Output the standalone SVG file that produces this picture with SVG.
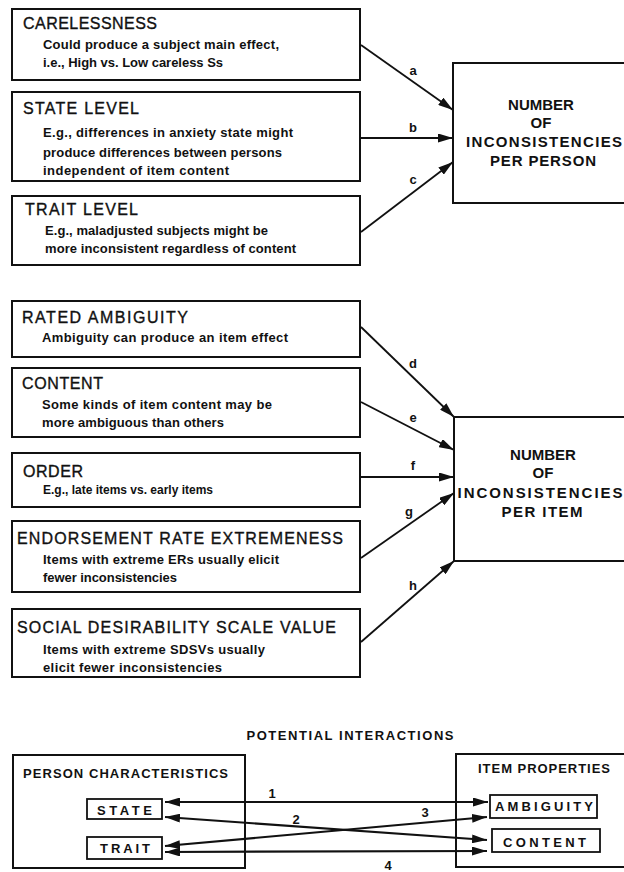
<svg xmlns="http://www.w3.org/2000/svg" width="624" height="872" viewBox="0 0 624 872">
<defs>
<marker id="ah" viewBox="0 0 15 9" refX="15" refY="4.5" markerWidth="15" markerHeight="9" markerUnits="userSpaceOnUse" orient="auto-start-reverse"><path d="M0,0 L15,4.5 L0,9 z" fill="#111"/></marker>
<style>
.box{fill:#fff;stroke:#111;stroke-width:2}
.ibox{fill:#fff;stroke:#111;stroke-width:1.8}
text{font-family:"Liberation Sans",Arial,sans-serif;fill:#111}
.h{font-size:16px;stroke:#111;stroke-width:0.35}
.s{font-size:13px;font-weight:bold}
.n{font-size:15px;font-weight:bold;text-anchor:middle}
.l{font-size:13px;font-weight:bold;text-anchor:middle}
.c{font-size:13px;font-weight:bold}
.ar{stroke:#111;stroke-width:1.8;fill:none;marker-end:url(#ah)}
.da{stroke:#111;stroke-width:2.2;fill:none;marker-end:url(#ah);marker-start:url(#ah)}
</style>
</defs>
<rect width="624" height="872" fill="#fff"/>

<g id="carelessness">
<rect class="box" x="12" y="9" width="348" height="71"/>
<text class="h" x="23" y="29" textLength="134">CARELESSNESS</text>
<text class="s" x="43" y="49" textLength="236">Could produce a subject main effect,</text>
<text class="s" x="43" y="67" textLength="180">i.e., High vs. Low careless Ss</text>
</g>
<g id="state-level">
<rect class="box" x="12" y="92" width="348" height="89"/>
<text class="h" x="23" y="114" textLength="116">STATE LEVEL</text>
<text class="s" x="43" y="137" textLength="250">E.g., differences in anxiety state might</text>
<text class="s" x="43" y="157" textLength="239">produce differences between persons</text>
<text class="s" x="43" y="175" textLength="186">independent of item content</text>
</g>
<g id="trait-level">
<rect class="box" x="12" y="196" width="348" height="69"/>
<text class="h" x="25" y="215" textLength="113">TRAIT LEVEL</text>
<text class="s" x="45" y="235" textLength="223">E.g., maladjusted subjects might be</text>
<text class="s" x="45" y="253" textLength="251">more inconsistent regardless of content</text>
</g>
<g id="per-person">
<rect class="box" x="453" y="63" width="190" height="140"/>
<text class="n" x="541" y="110">NUMBER</text>
<text class="n" x="541" y="128">OF</text>
<text class="n" x="544" y="147" textLength="156">INCONSISTENCIES</text>
<text class="n" x="543" y="166" textLength="106">PER PERSON</text>
</g>

<g id="rated-ambiguity">
<rect class="box" x="12" y="301" width="348" height="56"/>
<text class="h" x="22" y="323" textLength="166">RATED AMBIGUITY</text>
<text class="s" x="42" y="342" textLength="246">Ambiguity can produce an item effect</text>
</g>
<g id="content">
<rect class="box" x="12" y="368" width="348" height="69"/>
<text class="h" x="22" y="389" textLength="81">CONTENT</text>
<text class="s" x="42" y="409" textLength="230">Some kinds of item content may be</text>
<text class="s" x="42" y="427" textLength="182">more ambiguous than others</text>
</g>
<g id="order">
<rect class="box" x="12" y="453" width="348" height="54"/>
<text class="h" x="23" y="477" textLength="60">ORDER</text>
<text class="s" x="43" y="494" textLength="170" lengthAdjust="spacingAndGlyphs">E.g., late items vs. early items</text>
</g>
<g id="endorsement">
<rect class="box" x="12" y="521" width="348" height="71"/>
<text class="h" x="17" y="544" textLength="326">ENDORSEMENT RATE EXTREMENESS</text>
<text class="s" x="43" y="564" textLength="236">Items with extreme ERs usually elicit</text>
<text class="s" x="43" y="582" textLength="134">fewer inconsistencies</text>
</g>
<g id="social-desirability">
<rect class="box" x="12" y="609" width="348" height="68"/>
<text class="h" x="17" y="633" textLength="319">SOCIAL DESIRABILITY SCALE VALUE</text>
<text class="s" x="43" y="654" textLength="222">Items with extreme SDSVs usually</text>
<text class="s" x="43" y="672" textLength="179">elicit fewer inconsistencies</text>
</g>
<g id="per-item">
<rect class="box" x="454" y="417" width="190" height="144"/>
<text class="n" x="543" y="460">NUMBER</text>
<text class="n" x="543" y="478">OF</text>
<text class="n" x="540" y="498" textLength="165">INCONSISTENCIES</text>
<text class="n" x="542" y="517" textLength="81">PER ITEM</text>
</g>

<g id="connectors">
<line class="ar" x1="361" y1="45" x2="453" y2="110"/>
<line class="ar" x1="361" y1="138" x2="453" y2="138"/>
<line class="ar" x1="361" y1="232" x2="453" y2="162"/>
<line class="ar" x1="361" y1="327" x2="454" y2="417"/>
<line class="ar" x1="361" y1="402" x2="454" y2="450"/>
<line class="ar" x1="361" y1="477" x2="454" y2="477"/>
<line class="ar" x1="361" y1="558" x2="454" y2="493"/>
<line class="ar" x1="361" y1="642" x2="454" y2="561"/>
<text class="l" x="413" y="75">a</text>
<text class="l" x="413" y="132">b</text>
<text class="l" x="413" y="184">c</text>
<text class="l" x="413" y="368">d</text>
<text class="l" x="413" y="422">e</text>
<text class="l" x="413" y="470">f</text>
<text class="l" x="409" y="516">g</text>
<text class="l" x="413" y="590">h</text>
</g>

<text class="c" x="350" y="740" text-anchor="middle" textLength="207">POTENTIAL INTERACTIONS</text>

<g id="person-characteristics">
<rect class="box" x="13" y="755" width="232" height="113"/>
<text class="c" x="23" y="778" textLength="205">PERSON CHARACTERISTICS</text>
</g>
<g id="state">
<rect class="ibox" x="87" y="799" width="75" height="20"/>
<text class="c" x="97" y="815" textLength="55">STATE</text>
</g>
<g id="trait">
<rect class="ibox" x="87" y="837" width="75" height="22"/>
<text class="c" x="100" y="853" textLength="50">TRAIT</text>
</g>
<g id="item-properties">
<rect class="box" x="456" y="754" width="190" height="113"/>
<text class="c" x="478" y="773" textLength="132">ITEM PROPERTIES</text>
</g>
<g id="ambiguity">
<rect class="ibox" x="490" y="795" width="107" height="23"/>
<text class="c" x="495" y="811" textLength="98">AMBIGUITY</text>
</g>
<g id="content-item">
<rect class="ibox" x="492" y="829" width="108" height="23"/>
<text class="c" x="503" y="847" textLength="83">CONTENT</text>
</g>

<g id="interactions">
<line class="da" x1="165" y1="802" x2="488" y2="802"/>
<line class="da" x1="165" y1="817" x2="487" y2="840"/>
<line class="da" x1="165" y1="846" x2="487" y2="817"/>
<line class="da" x1="165" y1="852" x2="487" y2="851"/>
<text class="l" x="272" y="798">1</text>
<text class="l" x="296" y="824">2</text>
<text class="l" x="425" y="817">3</text>
<text class="l" x="388" y="870">4</text>
</g>
</svg>
